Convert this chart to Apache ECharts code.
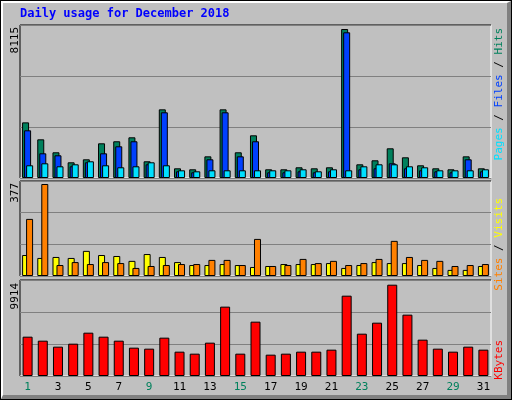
<!DOCTYPE html>
<html><head><meta charset="utf-8">
<script src="https://cdn.jsdelivr.net/npm/echarts@6/dist/echarts.min.js"></script>
<style>
html,body{margin:0;padding:0;background:#c0c0c0;}
#wrap{position:absolute;left:0;top:0;width:510px;height:398px;border:1px solid #000;background:#c0c0c0;}
#bev{position:absolute;left:0;top:0;width:504px;height:392px;border-top:2px solid #fff;border-left:2px solid #fff;border-right:4px solid #808080;border-bottom:4px solid #808080;}
#c{position:absolute;left:0;top:0;width:512px;height:400px;}
</style></head><body>
<div id="wrap"><div id="bev"></div></div>
<div id="c"></div>
<script>
const days = ['1','2','3','4','5','6','7','8','9','10','11','12','13','14','15','16','17','18','19','20','21','22','23','24','25','26','27','28','29','30','31'];
const weekend = ['1','2','8','9','15','16','22','23','29','30'];
const hits  = [3030,2107,1400,855,1018,1890,2000,2216,910,3740,528,474,1180,3740,1400,2325,474,474,583,528,583,8115,746,964,1617,1127,692,528,474,1180,528];
const files = [2598,1345,1236,637,855,1345,1726,2000,746,3578,365,310,1018,3578,1180,2000,310,310,365,310,365,7935,474,528,800,528,419,365,310,1018,365];
const pages = [692,800,637,746,910,692,583,637,855,692,419,365,419,419,419,419,419,419,474,365,474,419,637,746,746,637,583,419,419,419,474];
const sites = [86,74,78,74,103,86,82,62,90,78,57,45,45,49,45,37,41,49,49,49,53,33,45,57,53,53,45,33,25,25,41];
const visits= [234,377,45,57,49,57,53,33,41,45,49,49,66,66,45,152,41,45,70,53,62,45,53,70,144,78,66,62,41,45,49];
const kbytes= [4270,3836,3185,3510,4704,4270,3836,3077,2968,4162,2642,2425,3620,7530,2425,5900,2316,2425,2642,2642,2860,8722,4596,5790,9914,6660,3946,2968,2642,3185,2860];
const maxLabels = ['8115','377','9914'];

const chart = echarts.init(document.getElementById('c'));
const L=20,R=21;
const grids=[{left:L,right:R,top:25,height:153},{left:L,right:R,top:181,height:95},{left:L,right:R,top:280,height:96}];
const tops=[8115*153/149, 377*95/92, 9914*96/91.3];
function xa(i,show){return {type:'category',data:days,gridIndex:i,axisTick:{show:false},axisLine:{show:false},
  axisLabel:{show:show,margin:6,fontFamily:'DejaVu Sans Mono',fontSize:11,color:(v)=>weekend.includes(v)?'#00805c':'#000'}};}
function ya(i){return {type:'value',gridIndex:i,min:0,max:tops[i],interval:tops[i]/3,axisLabel:{show:false},axisLine:{show:false},axisTick:{show:false},splitLine:{show:true,lineStyle:{color:'#808080',width:1}}};}
const bs={borderColor:'#000',borderWidth:1};
function frame(g){const x0=L,x1=512-R,y0=g.top,y1=g.top+g.height;return [
 {type:'polyline',shape:{points:[[x0,y1],[x0,y0],[x1,y0]]},style:{stroke:'#000',lineWidth:1,fill:null}},
 {type:'polyline',shape:{points:[[x1,y0],[x1,y1],[x0,y1]]},style:{stroke:'#fff',lineWidth:1,fill:null}}];}
const mono='DejaVu Sans Mono';
function vt(x,y,rich,text){return {type:'text',x:x,y:y,rotation:Math.PI/2,style:{text:text,rich:rich,font:'11px '+mono,fill:'#000',align:'right',verticalAlign:'middle'}};}
chart.setOption({
 animation:false,
 grid:grids,
 xAxis:[xa(0,false),xa(1,false),xa(2,true)],
 yAxis:[ya(0),ya(1),ya(2)],
 series:[
  {type:'bar',xAxisIndex:0,yAxisIndex:0,data:hits,barWidth:7,barGap:'-71%',itemStyle:Object.assign({color:'#00805c'},bs)},
  {type:'bar',xAxisIndex:0,yAxisIndex:0,data:files,barWidth:7,barGap:'-71%',itemStyle:Object.assign({color:'#0040ff'},bs)},
  {type:'bar',xAxisIndex:0,yAxisIndex:0,data:pages,barWidth:7,barGap:'-71%',itemStyle:Object.assign({color:'#00e0ff'},bs)},
  {type:'bar',xAxisIndex:1,yAxisIndex:1,data:sites,barWidth:7,barGap:'-43%',itemStyle:Object.assign({color:'#ffff00'},bs)},
  {type:'bar',xAxisIndex:1,yAxisIndex:1,data:visits,barWidth:7,barGap:'-43%',itemStyle:Object.assign({color:'#ff8000'},bs)},
  {type:'bar',xAxisIndex:2,yAxisIndex:2,data:kbytes,barWidth:10,itemStyle:Object.assign({color:'#ff0000'},bs)}
 ],
 graphic:[].concat(frame(grids[0]),frame(grids[1]),frame(grids[2]),[
  {type:'text',left:20,top:8,style:{text:'Daily usage for December 2018',font:'bold 12px '+mono,fill:'#0000ff'}},
  {type:'text',x:15,y:27,rotation:Math.PI/2,style:{text:maxLabels[0],font:'11px '+mono,fill:'#000',align:'right',verticalAlign:'middle'}},
  {type:'text',x:15,y:183,rotation:Math.PI/2,style:{text:maxLabels[1],font:'11px '+mono,fill:'#000',align:'right',verticalAlign:'middle'}},
  {type:'text',x:15,y:283,rotation:Math.PI/2,style:{text:maxLabels[2],font:'11px '+mono,fill:'#000',align:'right',verticalAlign:'middle'}},
  {type:'text',x:499,y:28,rotation:Math.PI/2,style:{text:'{p|Pages}{k| / }{f|Files}{k| / }{h|Hits}',align:'right',verticalAlign:'middle',rich:{p:{fill:'#00e0ff',font:'11px '+mono},f:{fill:'#0040ff',font:'11px '+mono},h:{fill:'#00805c',font:'11px '+mono},k:{fill:'#000',font:'11px '+mono}}}},
  {type:'text',x:499,y:198,rotation:Math.PI/2,style:{text:'{s|Sites}{k| / }{v|Visits}',align:'right',verticalAlign:'middle',rich:{s:{fill:'#ff8000',font:'11px '+mono},v:{fill:'#ffff00',font:'11px '+mono},k:{fill:'#000',font:'11px '+mono}}}},
  {type:'text',x:499,y:340,rotation:Math.PI/2,style:{text:'KBytes',font:'11px '+mono,fill:'#ff0000',align:'right',verticalAlign:'middle'}}
 ])
});
</script></body></html>
